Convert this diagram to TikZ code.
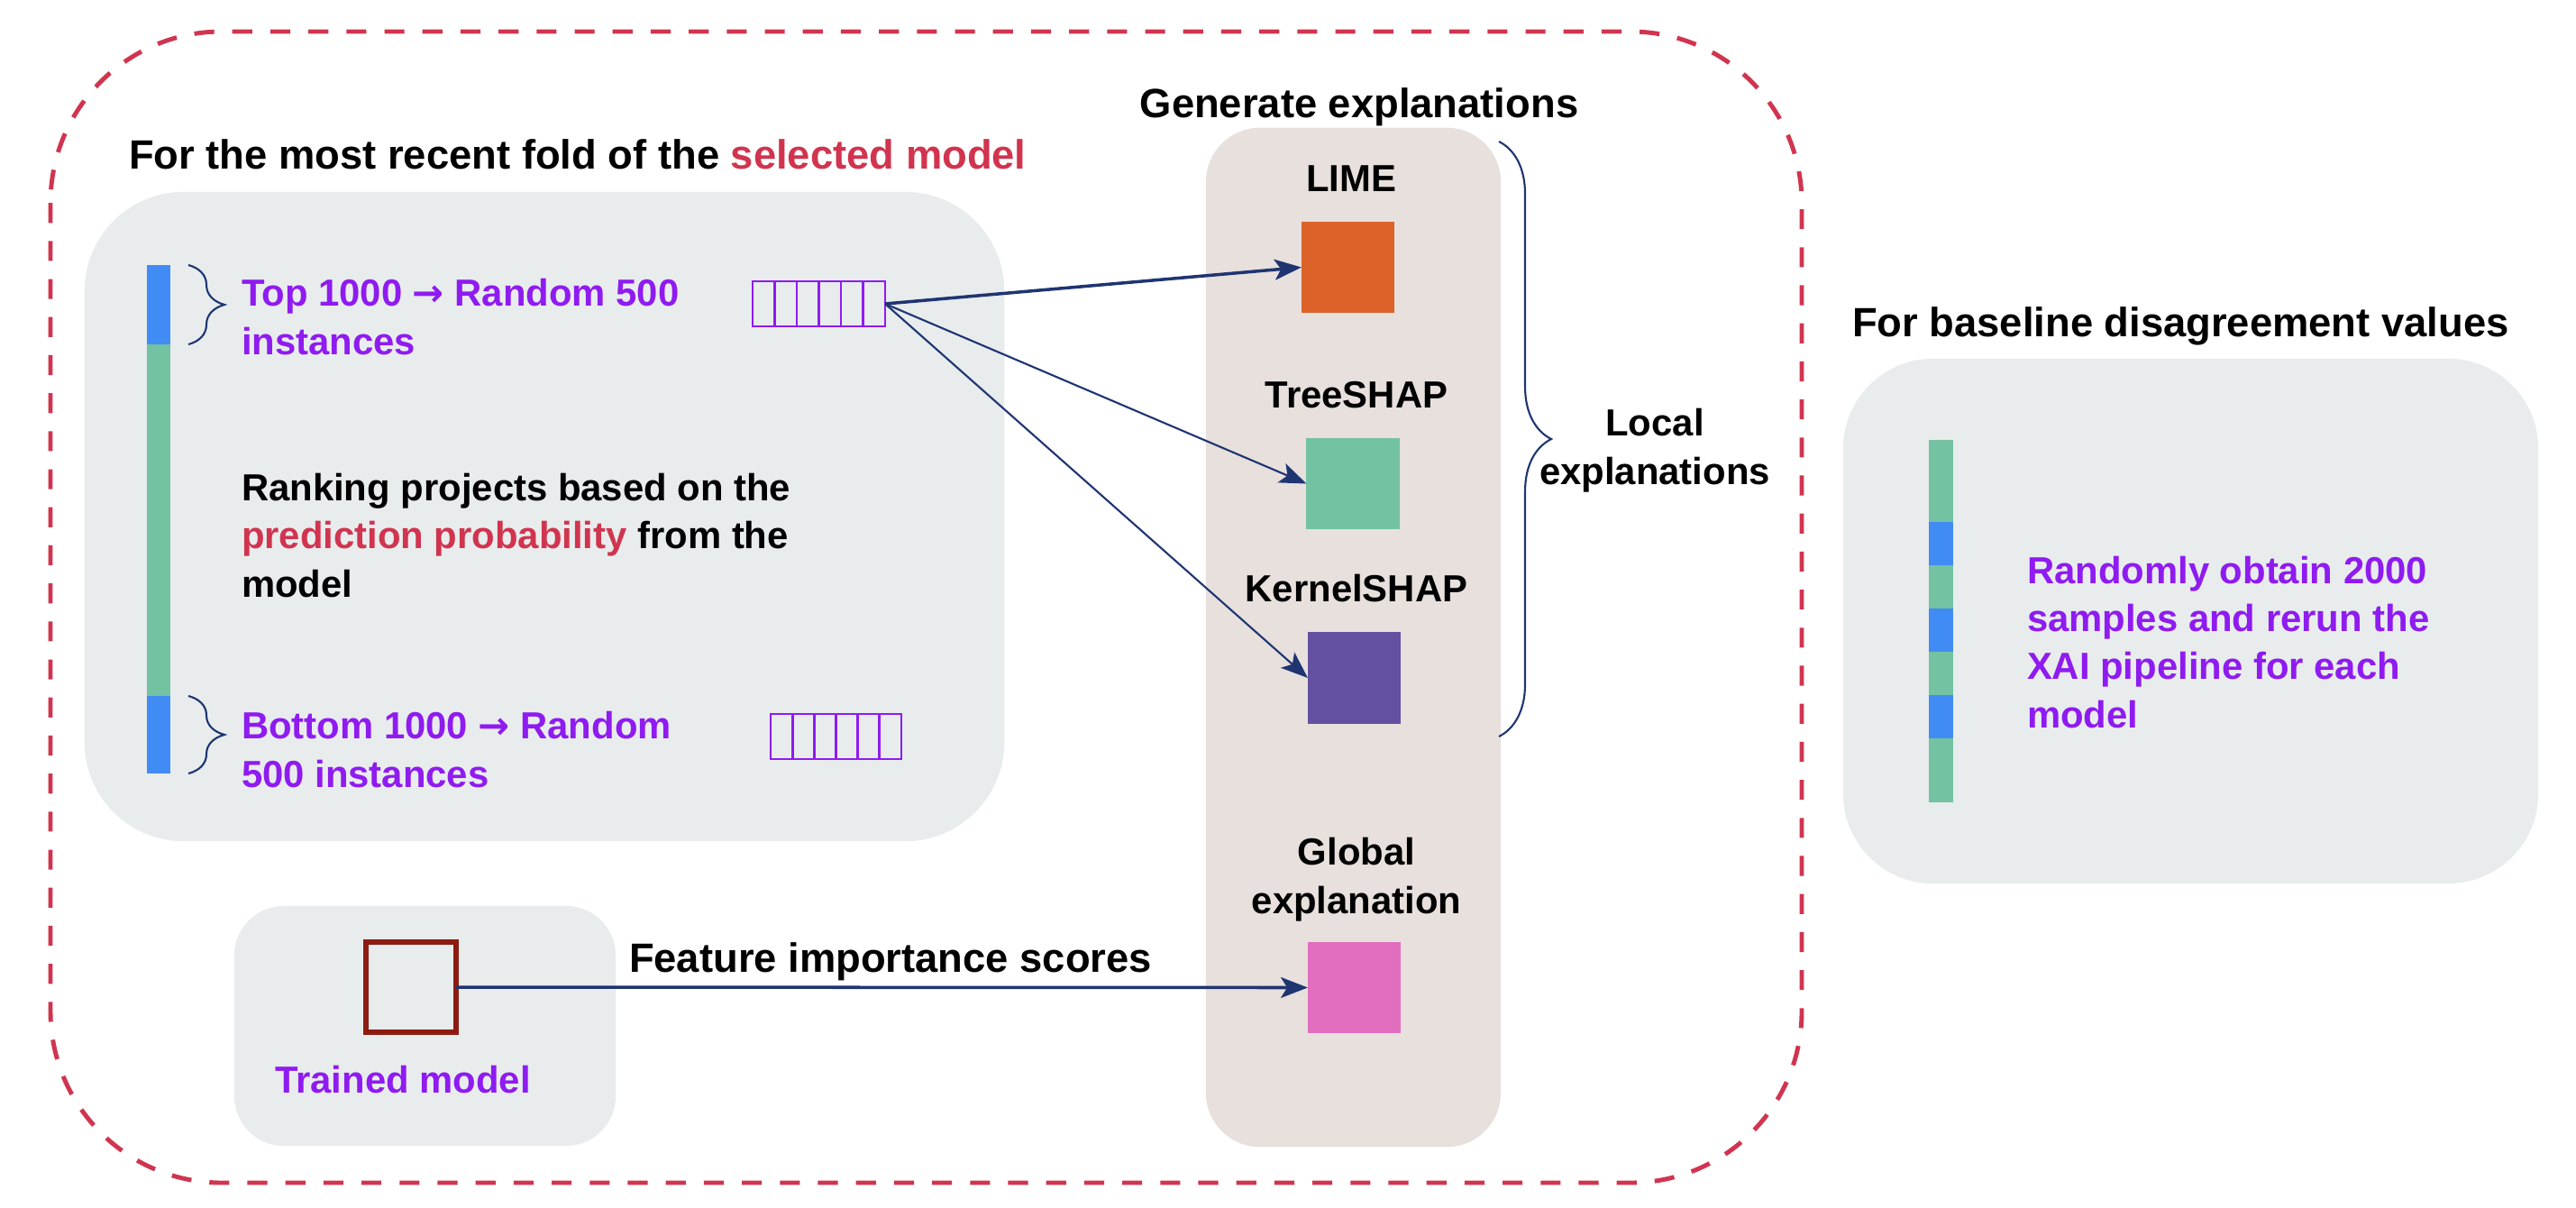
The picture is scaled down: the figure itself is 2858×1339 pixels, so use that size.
\documentclass[tikz,border=0pt]{standalone}
\usepackage{fontspec}
\setmainfont{Liberation Sans}
\newfontfamily\arrowfont{DejaVu Sans}
\usetikzlibrary{arrows.meta,decorations.pathreplacing}
\definecolor{foldred}{HTML}{D1344F}
\definecolor{instpurple}{HTML}{8F1BF0}
\definecolor{linknavy}{HTML}{1F3572}
\definecolor{panelgray}{HTML}{E8ECED}
\definecolor{panelbeige}{HTML}{E7E0DD}
\definecolor{barblue}{HTML}{418CF4}
\definecolor{bargreen}{HTML}{73C2A2}
\definecolor{limeorange}{HTML}{DC6229}
\definecolor{kernelviolet}{HTML}{6450A1}
\definecolor{globalpink}{HTML}{E26EC0}
\definecolor{modelred}{HTML}{8E1B12}
\newcommand{\toarrow}{{\arrowfont →}}
\begin{document}
\begin{tikzpicture}[x=0.01cm,y=-0.01cm,inner sep=0pt,outer sep=0pt,
headtext/.style={font=\bfseries\fontsize{12.9}{15.1}\selectfont},
bodytext/.style={font=\bfseries\fontsize{11.9}{15.1}\selectfont,align=left},
panel/.style={fill=#1,rounded corners},
seg/.style={minimum width=0.26cm},
expbox/.style={minimum width=1.03cm,minimum height=1.01cm},
cellbox/.style={draw=instpurple,line width=0.8pt},
bracestyle/.style={draw=linknavy,line width=0.6pt,decorate},
linkarrow/.style={draw=linknavy,-{Stealth[length=8.5pt,width=6.5pt,inset=2pt]}},
foldframe/.style={draw=foldred,line width=1.4pt,dash pattern=on 6.3pt off 5.7pt,rounded corners=1.9cm}]
\useasboundingbox (0,0) rectangle (2858,1339);
\draw[foldframe] (56,35) rectangle (1999,1312);
% panels
\draw (604,573) node[panel=panelgray,rounded corners=1.1cm,minimum width=10.2cm,minimum height=7.2cm] (rankpanel) {};
\draw (1501.5,707) node[panel=panelbeige,rounded corners=0.6cm,minimum width=3.27cm,minimum height=11.3cm] (explpanel) {};
\draw (2430.5,689) node[panel=panelgray,rounded corners=1cm,minimum width=7.71cm,minimum height=5.82cm] (basepanel) {};
\draw (471.5,1138) node[panel=panelgray,rounded corners=0.55cm,minimum width=4.23cm,minimum height=2.66cm] (modelpanel) {};
% headings
\draw (143,187) node[headtext,anchor=base west] (foldtitle) {For the most recent fold of the \textcolor{foldred}{selected model}};
\draw (1508,130) node[headtext,anchor=base] (gentitle) {Generate explanations};
\draw (2055,373) node[headtext,anchor=base west] (basetitle) {For baseline disagreement values};
% ranking bar
\draw (176,338) node[seg,fill=barblue,minimum height=0.88cm] (topseg) {};
\draw (176,577) node[seg,fill=bargreen,minimum height=3.9cm] (midseg) {};
\draw (176,815) node[seg,fill=barblue,minimum height=0.86cm] (botseg) {};
\draw[bracestyle,decoration={brace,amplitude=0.4cm}] ([xshift=0.2cm]topseg.north east) -- ([xshift=0.2cm]topseg.south east);
\draw[bracestyle,decoration={brace,amplitude=0.4cm}] ([xshift=0.2cm]botseg.north east) -- ([xshift=0.2cm]botseg.south east);
\draw (268,393) node[bodytext,anchor=base west,text=instpurple] (toptext) {Top 1000 \toarrow{} Random 500\\instances};
\draw (268,662) node[bodytext,anchor=base west] (ranktext) {Ranking projects based on the\\\textcolor{foldred}{prediction probability} from the\\model};
\draw (268,873) node[bodytext,anchor=base west,text=instpurple] (bottext) {Bottom 1000 \toarrow{} Random\\500 instances};
% sampled instances
\draw (908.5,337) node[cellbox,minimum width=1.47cm,minimum height=0.5cm] (toparr) {};
\foreach \i in {1,...,5}
  \draw[cellbox] ([xshift=\i*0.245cm]toparr.north west) -- ([xshift=\i*0.245cm]toparr.south west);
\draw (927.5,817) node[cellbox,minimum width=1.45cm,minimum height=0.5cm] (botarr) {};
\foreach \i in {1,...,5}
  \draw[cellbox] ([xshift=\i*0.2417cm]botarr.north west) -- ([xshift=\i*0.2417cm]botarr.south west);
% explainers
\draw (1499,212) node[bodytext,anchor=base] (limetext) {LIME};
\draw (1495.5,296.5) node[expbox,fill=limeorange] (lime) {};
\draw (1505,452) node[bodytext,anchor=base] (treetext) {TreeSHAP};
\draw (1501,536.5) node[expbox,fill=bargreen] (tree) {};
\draw (1505,667) node[bodytext,anchor=base] (kerneltext) {KernelSHAP};
\draw (1502.5,752) node[expbox,fill=kernelviolet] (kernel) {};
\draw (1505,1013) node[bodytext,anchor=base,align=center] (globaltext) {Global\\explanation};
\draw (1502.5,1095.5) node[expbox,fill=globalpink] (global) {};
\draw[bracestyle,decoration={brace,amplitude=0.58cm}] (1663,157) -- (1663,817);
\draw (1836,537) node[bodytext,anchor=base,align=center] (localtext) {Local\\explanations};
\draw[linkarrow,line width=1pt] (toparr.east) -- (lime.west);
\draw[linkarrow,line width=0.6pt] (toparr.east) -- (tree.west);
\draw[linkarrow,line width=0.6pt] (toparr.east) -- (kernel.west);
% trained model
\draw (456,1095) node[draw=modelred,line width=1.7pt,fill=panelgray,minimum width=1cm,minimum height=1cm] (model) {};
\draw (447,1212) node[bodytext,anchor=base,text=instpurple] (modeltext) {Trained model};
\draw[linkarrow,line width=1pt] (model.east) -- node[pos=.51,above=2pt,headtext] {Feature importance scores} (global.west);
% baseline samples
\foreach \y/\h/\c [count=\k] in {533.5/0.91/bargreen,603/0.48/barblue,651/0.48/bargreen,699/0.48/barblue,747/0.48/bargreen,795/0.48/barblue,854.5/0.71/bargreen}
  \draw (2153.5,\y) node[seg,minimum width=0.27cm,minimum height=\h cm,fill=\c] (sample\k) {};
\draw (2249,807) node[bodytext,anchor=base west,text=instpurple] (sampletext) {Randomly obtain 2000\\samples and rerun the\\XAI pipeline for each\\model};
\end{tikzpicture}
\end{document}
